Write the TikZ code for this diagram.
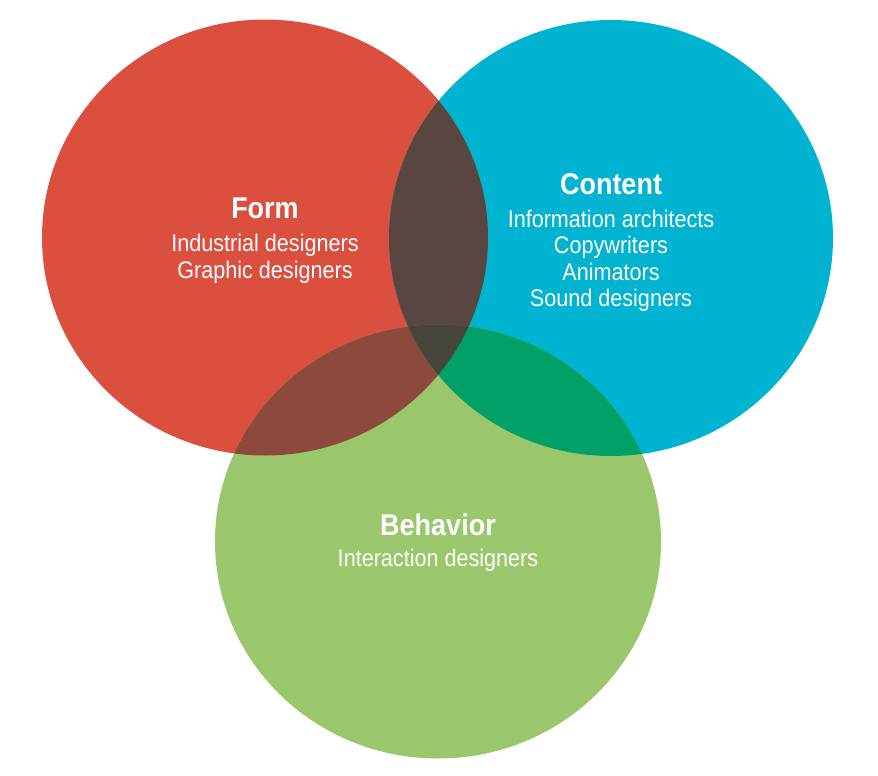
\documentclass[tikz,border=0pt]{standalone}
\usepackage{fontspec}
\setmainfont{Liberation Sans}[FakeStretch=0.9]
\definecolor{cred}{HTML}{DB4F3F}
\definecolor{cblue}{HTML}{00B3D0}
\definecolor{cgreen}{HTML}{9BC76C}
\definecolor{crb}{HTML}{5A4641}
\definecolor{crg}{HTML}{8D4A3C}
\definecolor{cbg}{HTML}{00A066}
\definecolor{crgb}{HTML}{47453A}
\tikzset{
  title/.style={text=white, font=\fontsize{30}{32}\selectfont\bfseries, anchor=base, inner sep=0pt},
  item/.style={text=white, font=\fontsize{24}{26}\selectfont, anchor=base, inner sep=0pt}
}
\begin{document}
\begin{tikzpicture}[x=1pt,y=-1pt]
\useasboundingbox (0,0) rectangle (878,776);
\def\redpath{(265,237.5) ellipse [x radius=223pt, y radius=218pt]}
\def\bluepath{(611,238) ellipse [x radius=222pt, y radius=218pt]}
\def\greenpath{(438,541.5) ellipse [x radius=223pt, y radius=217pt]}
\fill[cred] \redpath;
\fill[cblue] \bluepath;
\fill[cgreen] \greenpath;
\begin{scope}
  \clip \redpath;
  \fill[crb] \bluepath;
  \fill[crg] \greenpath;
\end{scope}
\begin{scope}
  \clip \bluepath;
  \fill[cbg] \greenpath;
\end{scope}
\begin{scope}
  \clip \redpath;
  \clip \bluepath;
  \fill[crgb] \greenpath;
\end{scope}
\node[title] (form) at (265,218) {Form};
\node[item] (form1) at (265,251) {Industrial designers};
\node[item] (form2) at (265,278) {Graphic designers};
\node[title] (content) at (611,194) {Content};
\node[item] (content1) at (611,227) {Information architects};
\node[item] (content2) at (611,253.5) {Copywriters};
\node[item] (content3) at (611,280) {Animators};
\node[item] (content4) at (611,306.5) {Sound designers};
\node[title] (behavior) at (438,535.5) {Behavior};
\node[item] (behavior1) at (438,566) {Interaction designers};
\end{tikzpicture}
\end{document}
